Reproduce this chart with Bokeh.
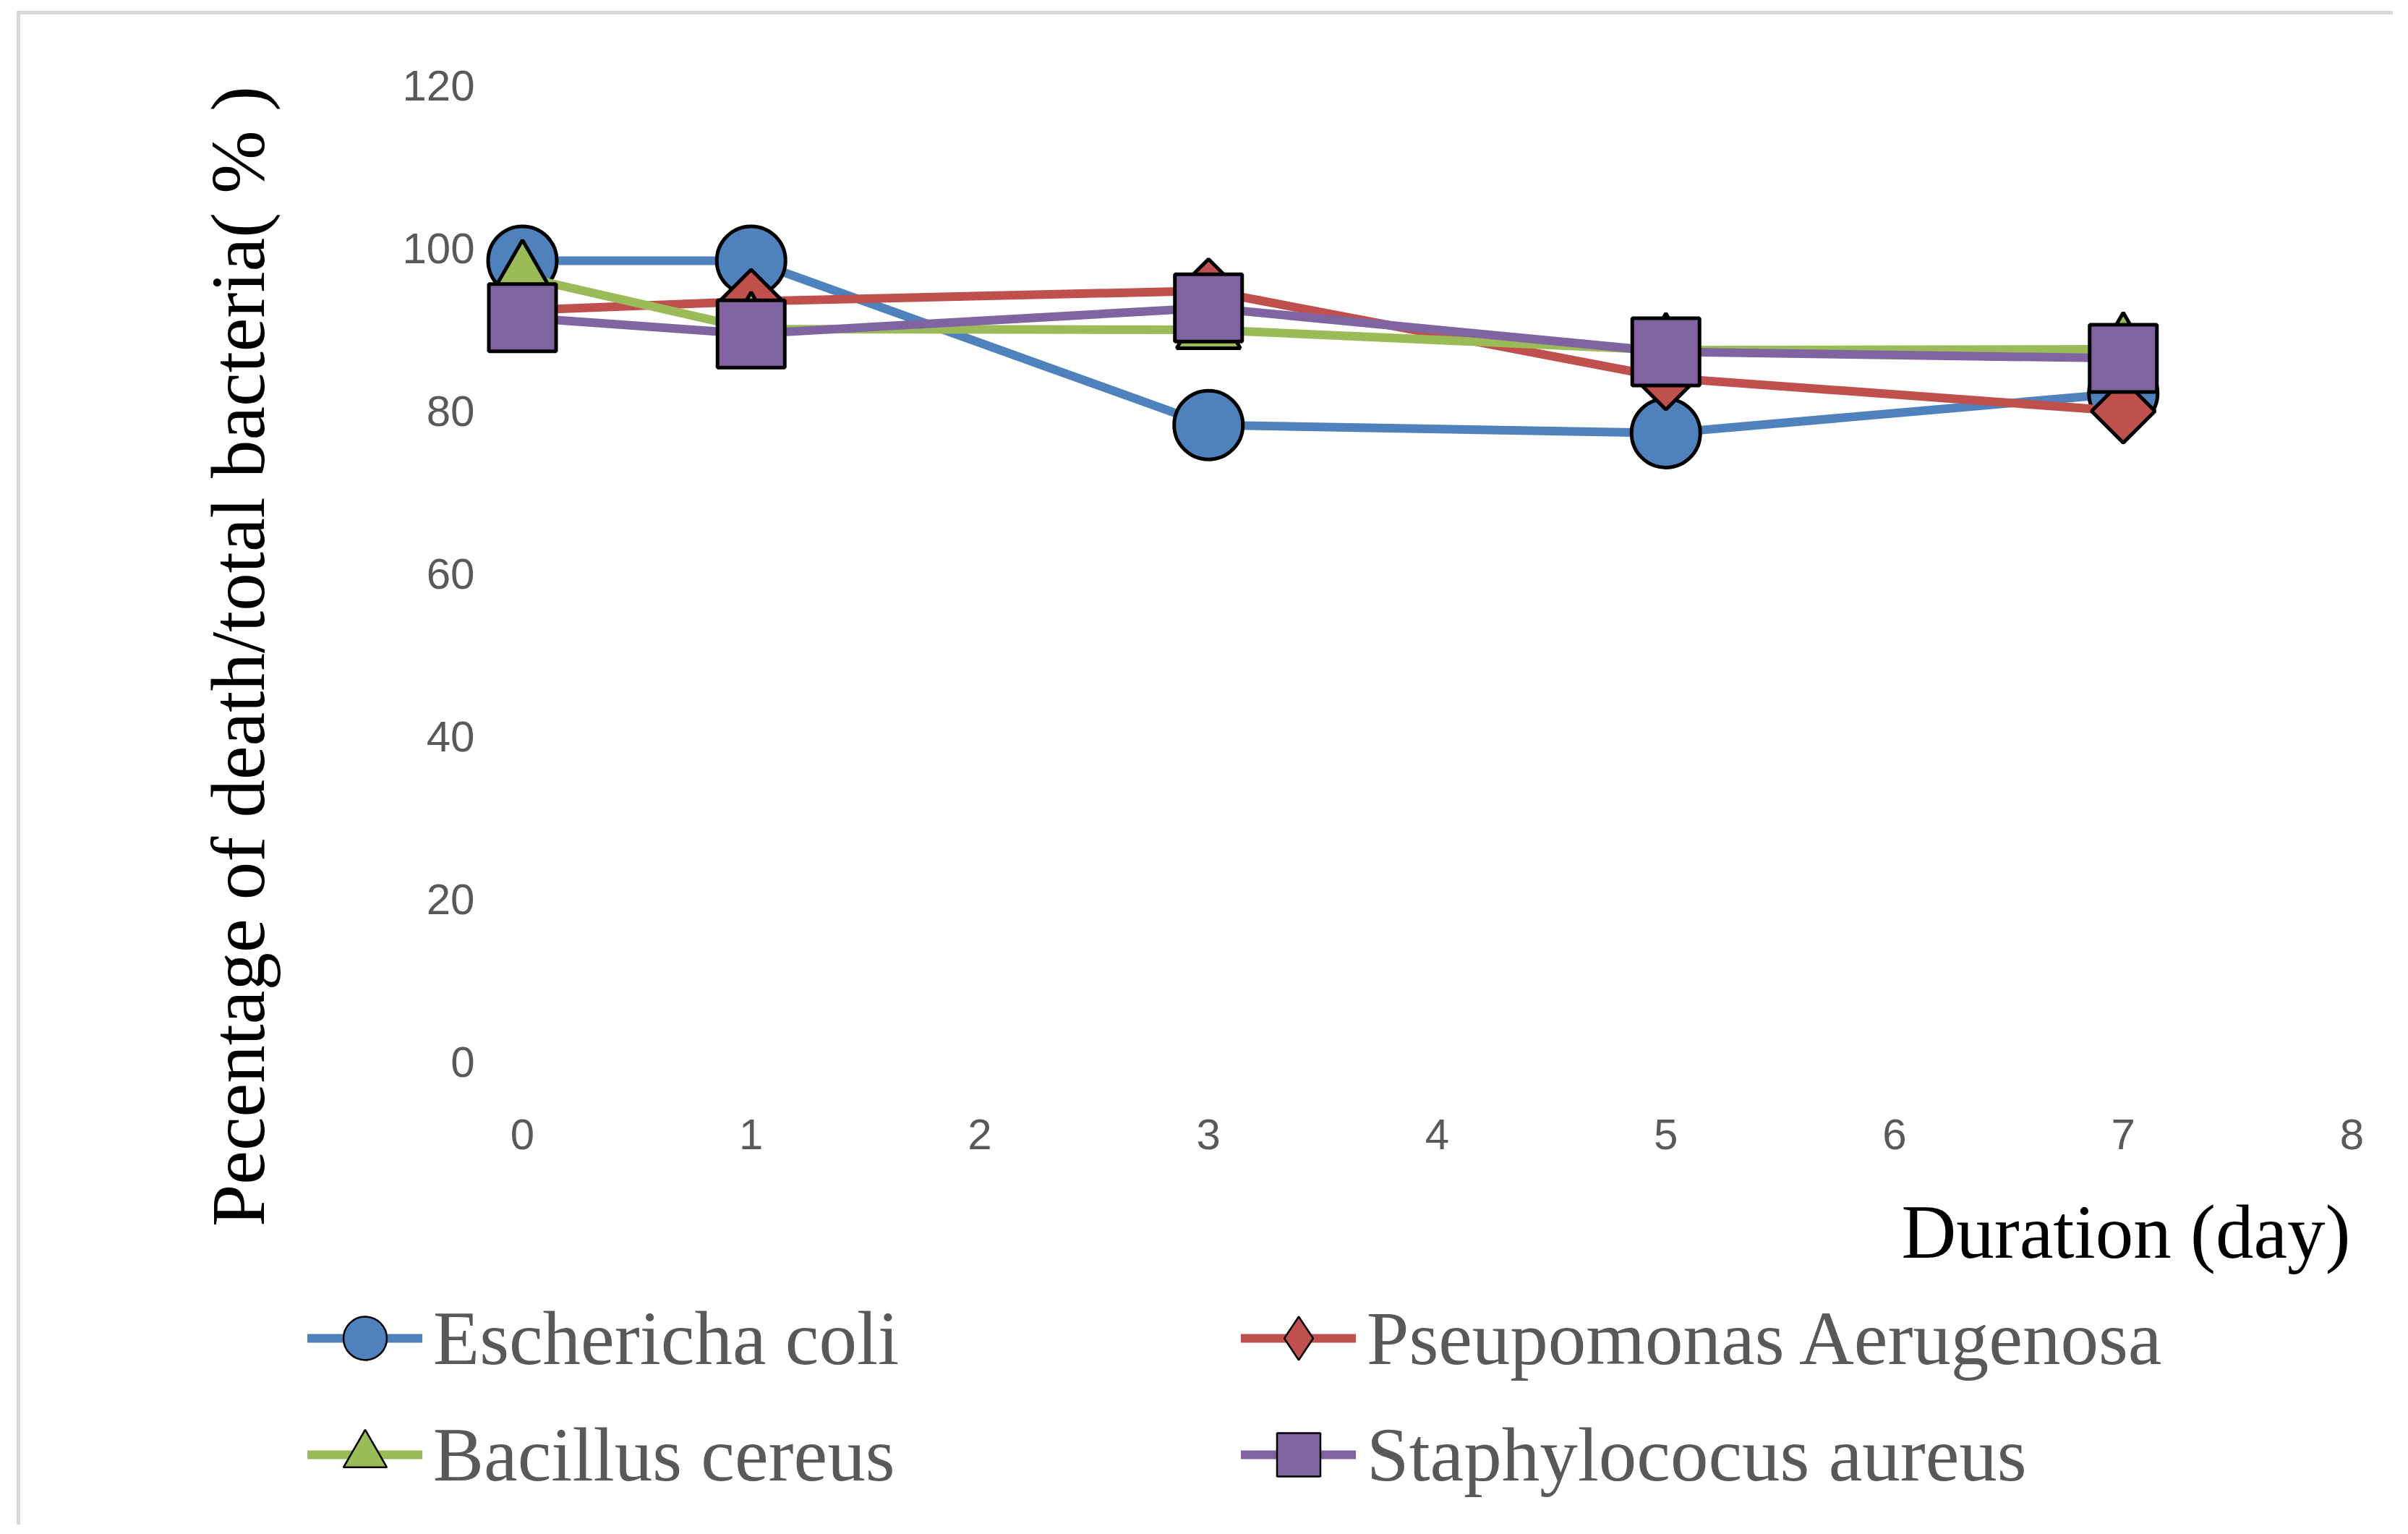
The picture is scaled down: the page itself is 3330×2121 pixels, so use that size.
import math
from bokeh.plotting import figure
from bokeh.models import FixedTicker, Label, Legend, LegendItem, LinearAxis
from bokeh.embed import file_html
from bokeh.resources import INLINE

# ---------------- data ----------------
days = [0, 1, 3, 5, 7]
series_names = ["Eschericha coli", "Pseupomonas Aerugenosa", "Bacillus cereus", "Staphylococus aureus"]
ecoli = [98.5, 98.5, 78.3, 77.3, 82.2]
pseudomonas = [92.4, 93.5, 94.8, 84.1, 80.0]
bacillus = [96.5, 90.1, 90.0, 87.5, 87.6]
staph = [91.5, 89.5, 92.7, 87.3, 86.5]
x_ticks = [0, 1, 2, 3, 4, 5, 6, 7, 8]
y_ticks = [0, 20, 40, 60, 80, 100, 120]
y_title = "Pecentage of death/total bacteria( % )"
x_title = "Duration (day)"

# ---------------- styles / layout ----------------
colors = ["#4F81BD", "#C0504D", "#9BBB59", "#8064A2"]
markers = ["circle", "square", "triangle", "square"]
legend_markers = ["circle", "diamond", "triangle", "square"]
msizes = [95, 62, 88, 93]
mangles = [0, math.pi / 4, 0, 0]

W, H = 3286, 2093
# pixel positions (canvas) of the data extents
X0_PX, X8_PX = 694.0, 3224.0
Y0_PX, Y120_PX = 1448.0, 98.0
ux = (X8_PX - X0_PX) / 8.0
uy = (Y0_PX - Y120_PX) / 120.0
x_start = -X0_PX / ux
x_end = 8 + (W - X8_PX) / ux
y_end = 120 + Y120_PX / uy
y_start = -(H - Y0_PX) / uy


def dx(px):
    return x_start + px / ux


def dy(py):
    return y_end - py / uy


p = figure(width=W, height=H, x_range=(x_start, x_end), y_range=(y_start, y_end),
           output_backend="svg", toolbar_location=None,
           x_axis_location=None, y_axis_location=None,
           min_border=0, min_border_left=0, min_border_right=0,
           min_border_top=0, min_border_bottom=0)
p.styles = {"border-left": "5px solid #D9D9D9", "border-top": "5px solid #D9D9D9",
            "margin-left": "23px", "margin-top": "15px"}
p.title.visible = False
p.outline_line_color = None
p.background_fill_color = "white"
p.border_fill_color = "white"
p.grid.visible = False

xaxis = LinearAxis(fixed_location=0, ticker=FixedTicker(ticks=x_ticks))
yaxis = LinearAxis(fixed_location=0, ticker=FixedTicker(ticks=y_ticks))
for ax in (xaxis, yaxis):
    ax.axis_line_color = None
    ax.major_tick_line_color = None
    ax.minor_tick_line_color = None
    ax.major_tick_in = 0
    ax.major_tick_out = 0
    ax.minor_tick_in = 0
    ax.minor_tick_out = 0
    ax.major_label_text_font = "Liberation Sans"
    ax.major_label_text_font_size = "60px"
    ax.major_label_text_color = "#595959"
xaxis.major_label_standoff = 79
yaxis.major_label_standoff = 66
p.add_layout(xaxis, "below")
p.add_layout(yaxis, "left")

items = []
all_series = [ecoli, pseudomonas, bacillus, staph]
for name, vals, c, m, lm, s, a in zip(series_names, all_series, colors, markers,
                                      legend_markers, msizes, mangles):
    lr = p.line(days, vals, line_color=c, line_width=12, line_join="round", line_cap="round")
    # small legend-key markers (thin outline, legend shape); hidden under the plot markers
    key = p.scatter(days, vals, marker=lm, size=8, fill_color=c,
                    line_color="black", line_width=2.5)
    p.scatter(days, vals, marker=m, size=s, angle=a, fill_color=c,
              line_color="black", line_width=5)
    items.append(LegendItem(label=name, renderers=[lr, key]))

p.add_layout(Label(x=dx(301), y=dy(887), text=y_title, angle=math.pi / 2,
                   text_align="center", text_baseline="middle",
                   text_font="Liberation Serif", text_font_size="105px", text_color="#000000"))
p.add_layout(Label(x=dx(3222), y=dy(1683), text=x_title,
                   text_align="right", text_baseline="middle",
                   text_font="Liberation Serif", text_font_size="105px", text_color="#000000"))

legend = Legend(items=items, location=(397, 27), orientation="horizontal", ncols=2,
                label_text_font="Liberation Serif", label_text_font_size="105px",
                label_text_color="#595959", glyph_width=159, glyph_height=150,
                label_standoff=15, spacing=11, padding=0, margin=0,
                label_width=1106, border_line_color=None, background_fill_alpha=0)
p.add_layout(legend, "center")

open("out.html", "w").write(file_html(p, INLINE))
